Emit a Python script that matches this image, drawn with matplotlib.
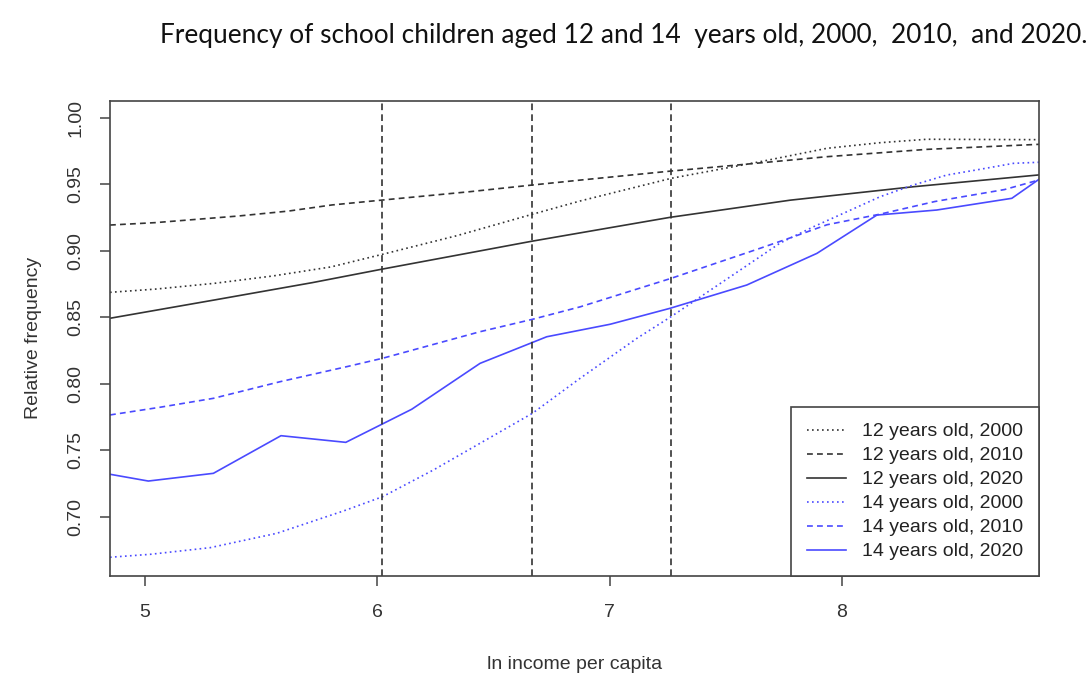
import matplotlib
matplotlib.use('Agg')
import matplotlib.pyplot as plt

# ---- data ----
x_12_2000 = [4.849, 5.05, 5.30, 5.55, 5.80, 6.022, 6.342, 6.667, 6.873, 7.264, 7.647, 7.935, 8.163, 8.365, 8.848]
y_12_2000 = [0.8687, 0.8712, 0.8755, 0.8810, 0.8878, 0.8973, 0.9113, 0.9274, 0.9374, 0.9544, 0.9669, 0.9770, 0.9812, 0.9838, 0.9835]

x_12_2010 = [4.849, 5.043, 5.402, 5.617, 5.804, 6.022, 6.399, 6.667, 6.873, 7.264, 7.504, 7.935, 8.365, 8.848]
y_12_2010 = [0.9193, 0.9211, 0.9261, 0.9298, 0.9344, 0.9381, 0.9444, 0.9494, 0.9531, 0.9599, 0.9637, 0.9707, 0.9762, 0.9800]

x_12_2020 = [4.849, 5.300, 5.720, 6.022, 6.400, 6.667, 7.260, 7.777, 8.307, 8.848]
y_12_2020 = [0.8492, 0.8630, 0.8760, 0.8862, 0.8985, 0.9072, 0.9251, 0.9380, 0.9481, 0.9570]

x_14_2000 = [4.849, 5.022, 5.280, 5.567, 5.854, 6.022, 6.241, 6.442, 6.667, 6.873, 7.117, 7.264, 7.360, 7.647,
             7.734, 7.877, 8.021, 8.164, 8.307, 8.451, 8.594, 8.738, 8.848]
y_14_2000 = [0.6695, 0.6717, 0.6767, 0.6875, 0.7043, 0.7150, 0.7351, 0.7552, 0.7777, 0.8041, 0.8341, 0.8504, 0.8617, 0.8955,
             0.9058, 0.9180, 0.9293, 0.9406, 0.9494, 0.9569, 0.9612, 0.9657, 0.9665]

x_14_2010 = [4.849, 5.065, 5.294, 5.581, 5.868, 6.022, 6.442, 6.667, 6.873, 7.264, 7.647, 7.791, 7.935, 8.164, 8.400, 8.700, 8.848]
y_14_2010 = [0.7765, 0.7823, 0.7890, 0.8015, 0.8128, 0.8191, 0.8391, 0.8484, 0.8578, 0.8792, 0.9018, 0.9105, 0.9195, 0.9275, 0.9370, 0.9460, 0.9532]

x_14_2020 = [4.849, 5.014, 5.294, 5.585, 5.864, 6.148, 6.442, 6.729, 7.002, 7.260, 7.590, 7.892, 8.150, 8.408, 8.731, 8.848]
y_14_2020 = [0.7319, 0.7268, 0.7326, 0.7609, 0.7559, 0.7808, 0.8153, 0.8353, 0.8447, 0.8567, 0.8742, 0.8980, 0.9268, 0.9306, 0.9394, 0.9537]

vlines_x = [6.021, 6.667, 7.264]

labels = ["12 years old, 2000", "12 years old, 2010", "12 years old, 2020",
          "14 years old, 2000", "14 years old, 2010", "14 years old, 2020"]
x_ticks = [5, 6, 7, 8]
y_ticks = [0.70, 0.75, 0.80, 0.85, 0.90, 0.95, 1.00]

title = "Frequency of school children aged 12 and 14  years old, 2000,  2010,  and 2020."
xlabel = "ln income per capita"
ylabel = "Relative frequency"

# ---- styling ----
plt.rcParams['font.family'] = ['Liberation Sans', 'DejaVu Sans']
BLACK = '#333333'
BLUE = '#4a4aff'
FRAME = '#444444'
DOT = (0, (1.0, 2.0))
DASH = (0, (3.5, 2.5))
LW = 1.2

fig = plt.figure(figsize=(10.9, 6.79), dpi=100)
ax = fig.add_axes([110 / 1090, 103 / 679, 929 / 1090, 475.3 / 679])

series = [
    (x_12_2000, y_12_2000, BLACK, DOT),
    (x_12_2010, y_12_2010, BLACK, DASH),
    (x_12_2020, y_12_2020, BLACK, '-'),
    (x_14_2000, y_14_2000, BLUE, DOT),
    (x_14_2010, y_14_2010, BLUE, DASH),
    (x_14_2020, y_14_2020, BLUE, '-'),
]
handles = []
for (xs, ys, c, ls), lab in zip(series, labels):
    h, = ax.plot(xs, ys, color=c, linestyle=ls, lw=LW, label=lab)
    handles.append(h)

for xv in vlines_x:
    ax.axvline(xv, color=BLACK, linestyle=(0, (4.0, 2.5)), lw=1.2)

ax.set_xlim(4.849, 8.848)
ax.set_ylim(0.6554, 1.0128)
ax.set_xticks(x_ticks)
ax.set_xticklabels([str(t) for t in x_ticks])
ax.set_yticks(y_ticks)
ax.set_yticklabels([f"{t:.2f}" for t in y_ticks], rotation=90, va='center')

ax.tick_params(axis='both', direction='out', length=7.5, width=1.1, color=FRAME,
               labelsize=14, labelcolor='#333333')
ax.tick_params(axis='x', pad=13)
ax.tick_params(axis='y', pad=11)
for sp in ax.spines.values():
    sp.set_color(FRAME)
    sp.set_linewidth(1.2)

ax.set_xlabel(xlabel, fontsize=14, color='#333333', labelpad=25)
ax.set_ylabel(ylabel, fontsize=14, color='#333333', labelpad=18)

leg = ax.legend(handles=handles, loc='lower right', bbox_to_anchor=(1.0, 0.0),
                borderaxespad=0.0, fontsize=14, frameon=True, fancybox=False,
                framealpha=1.0, edgecolor=FRAME, handlelength=2.0,
                handletextpad=0.85, borderpad=0.8, labelspacing=0.33)
leg.get_frame().set_linewidth(1.2)
for t in leg.get_texts():
    t.set_color('#222222')

fig.text(624 / 1090, 1 - 36 / 679, title, ha='center', va='center',
         fontsize=18.9, family=['Lato', 'DejaVu Sans'], color='#111111')

fig.savefig('out.png', dpi=100)
